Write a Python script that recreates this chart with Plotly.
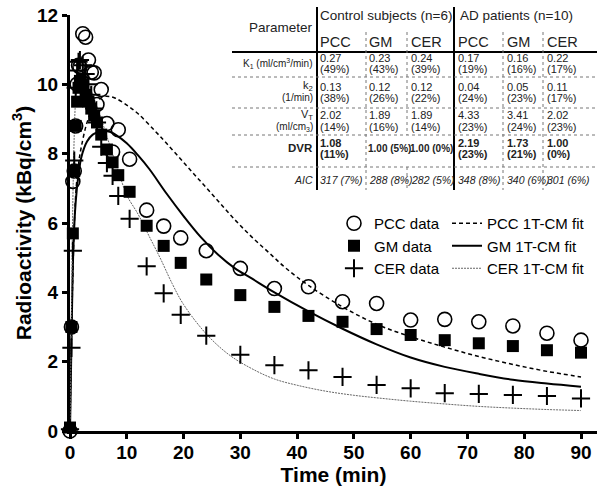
import plotly.graph_objects as go

# ---------------- data ----------------
TIME = [0, 0.25, 0.5, 0.75, 1.0, 1.25, 1.5, 1.75, 2.25, 2.75, 3.25, 3.75, 4.25, 4.75,
        5.5, 6.5, 7.5, 8.5, 10.5, 13.5, 16.5, 19.5, 24, 30, 36, 42, 48, 54, 60, 66, 72, 78, 84, 90]
PCC_DATA = [0, 3.0, 7.2, 7.5, 8.8, 10.0, 10.55, 10.5, 11.46, 11.36, 10.7, 10.35, 10.33, 9.42,
            9.85, 8.87, 8.05, 8.69, 7.84, 6.37, 5.91, 5.57, 5.2, 4.69, 4.11, 4.16, 3.73, 3.68,
            3.2, 3.22, 3.15, 3.03, 2.82, 2.62]
GM_DATA = [0.1, 3.0, 5.7, 7.5, 8.8, 9.5, 9.9, 10.1, 10.0, 9.7, 9.5, 9.3, 9.1, 8.9,
           8.55, 8.12, 7.75, 7.38, 6.9, 5.92, 5.34, 4.85, 4.37, 3.92, 3.58, 3.32, 3.15, 2.94,
           2.77, 2.62, 2.53, 2.45, 2.33, 2.26]
CER_DATA = [0.05, 2.4, 5.2, 7.8, 9.9, 10.4, 10.65, 10.7, 10.55, 10.3, 10.0, 9.7, 9.3, 8.9,
            8.2, 7.73, 7.36, 6.78, 6.12, 4.75, 3.97, 3.35, 2.75, 2.2, 1.9, 1.75, 1.56, 1.33,
            1.23, 1.09, 1.07, 1.04, 1.01, 0.94]

PCC_FIT_T = [0, 0.5, 1, 1.5, 2, 3, 4, 5, 6, 7, 8, 10, 12, 15, 17, 20, 23, 26, 29, 32, 35,
             38, 42, 48, 54, 60, 66, 72, 78, 84, 90]
PCC_FIT = [0, 4.5, 6.8, 7.7, 8.2, 8.9, 9.3, 9.55, 9.65, 9.65, 9.6, 9.4, 9.15, 8.65, 8.3, 7.75,
           7.2, 6.65, 6.1, 5.6, 5.15, 4.7, 4.2, 3.58, 3.08, 2.72, 2.42, 2.15, 1.92, 1.72, 1.56]
GM_FIT_T = [0, 0.3, 0.6, 1, 1.5, 2, 3, 4, 5, 6, 7, 8, 10, 12, 14, 17, 20, 23, 26, 29, 32,
            36, 42, 48, 54, 60, 66, 72, 78, 84, 90]
GM_FIT = [0, 3.0, 5.3, 6.6, 7.4, 7.9, 8.35, 8.55, 8.62, 8.65, 8.63, 8.55, 8.3, 7.95, 7.55,
          6.85, 6.2, 5.6, 5.1, 4.7, 4.4, 4.0, 3.45, 2.95, 2.5, 2.12, 1.85, 1.65, 1.48, 1.37, 1.28]
CER_FIT_T = [0, 0.3, 0.6, 1, 1.5, 2, 3, 4, 5, 6, 7, 8, 9, 10, 12, 14, 16, 18, 20, 24, 28, 32,
             36, 40, 45, 50, 55, 60, 66, 72, 78, 84, 90]
CER_FIT = [0, 4.0, 7.5, 9.6, 10.4, 10.6, 10.2, 9.7, 9.25, 8.75, 8.25, 7.75, 7.25, 6.8, 6.25,
           5.6, 4.95, 4.25, 3.65, 2.8, 2.2, 1.8, 1.5, 1.32, 1.15, 1.03, 0.94, 0.86, 0.78, 0.71,
           0.66, 0.62, 0.59]

X_TICKS = [0, 10, 20, 30, 40, 50, 60, 70, 80, 90]
Y_TICKS = [0, 2, 4, 6, 8, 10, 12]

# table contents
GROUPS = ["Control subjects (n=6)", "AD patients (n=10)"]
REGIONS = ["PCC", "GM", "CER", "PCC", "GM", "CER"]
K1 = ["0.27", "0.23", "0.24", "0.17", "0.16", "0.22"]
K1_CV = ["(49%)", "(43%)", "(39%)", "(19%)", "(16%)", "(17%)"]
K2 = ["0.13", "0.12", "0.12", "0.04", "0.05", "0.11"]
K2_CV = ["(38%)", "(26%)", "(22%)", "(24%)", "(23%)", "(17%)"]
VT = ["2.02", "1.89", "1.89", "4.33", "3.41", "2.02"]
VT_CV = ["(14%)", "(16%)", "(14%)", "(23%)", "(24%)", "(23%)"]
DVR = ["1.08", "1.00", "1.00", "2.19", "1.73", "1.00"]
DVR_CV = ["(11%)", "(5%)", "(0%)", "(23%)", "(21%)", "(0%)"]
AIC = ["317 (7%)", "288 (8%)", "282 (5%)", "348 (8%)", "340 (6%)", "301 (6%)"]

# ---------------- layout geometry ----------------
W, H = 597, 486
ML, MR, MT, MB = 70, 0, 15, 55
PW, PH = W - ML - MR, H - MT - MB
XMAX = 90 * PW / (581 - 70)


def px(x):
    return (x - ML) / PW


def py(y):
    return (MT + PH - y) / PH


fig = go.Figure()

fig.add_trace(go.Scatter(x=PCC_FIT_T, y=PCC_FIT, mode="lines", name="PCC 1T-CM fit",
                         line=dict(color="black", width=1.5, dash="4px,3px", shape="spline"),
                         legend="legend2", cliponaxis=False))
fig.add_trace(go.Scatter(x=GM_FIT_T, y=GM_FIT, mode="lines", name="GM 1T-CM fit",
                         line=dict(color="black", width=2, shape="spline"),
                         legend="legend2", cliponaxis=False))
fig.add_trace(go.Scatter(x=CER_FIT_T, y=CER_FIT, mode="lines", name="CER 1T-CM fit",
                         line=dict(color="#666666", width=1, dash="2px,1px", shape="spline"),
                         legend="legend2", cliponaxis=False))

fig.add_trace(go.Scatter(x=TIME, y=PCC_DATA, mode="markers", name="PCC data",
                         marker=dict(symbol="circle-open", size=14, color="black",
                                     line=dict(width=1.6, color="black")),
                         legend="legend", cliponaxis=False))
fig.add_trace(go.Scatter(x=TIME, y=GM_DATA, mode="markers", name="GM data",
                         marker=dict(symbol="square", size=12, color="black"),
                         legend="legend", cliponaxis=False))
fig.add_trace(go.Scatter(x=TIME, y=CER_DATA, mode="markers", name="CER data",
                         marker=dict(symbol="cross-thin", size=13, color="black",
                                     line=dict(width=2, color="black")),
                         legend="legend", cliponaxis=False))

TF = "Liberation Sans, Arial, sans-serif"
TC = "#222222"
ann = []


def txt(t, x, y, size=10.5, anchor="left", color=TC, family=TF):
    ann.append(dict(text=t, x=px(x), y=py(y), xref="paper", yref="paper",
                    xanchor=anchor, yanchor="middle", showarrow=False,
                    font=dict(family=family, size=size, color=color)))


COLX = [318, 367, 409, 456, 505, 545]
txt("Parameter", 247, 27, size=13.5)
txt(GROUPS[0], 318, 15, size=13.5)
txt(GROUPS[1], 458, 15, size=13.5)
for i, r in enumerate(REGIONS):
    txt(r, COLX[i], 42, size=14.5)

LX = 315
txt("K<sub>1</sub> (ml/cm<sup>3</sup>/min)", LX, 63, anchor="right", size=10)
txt("k<sub>2</sub>", LX, 86, anchor="right", size=11)
txt("(1/min)", LX, 98, anchor="right", size=10)
txt("V<sub>T</sub>", LX, 115, anchor="right", size=11)
txt("(ml/cm<sub>3</sub>)", LX, 127, anchor="right", size=10)
txt("<b>DVR</b>", LX, 148, anchor="right", size=11.5)
txt("<i>AIC</i>", LX, 180, anchor="right", size=10.5)

for i in range(6):
    txt(K1[i], COLX[i], 58, size=11)
    txt(K1_CV[i], COLX[i], 69, size=11)
    txt(K2[i], COLX[i], 87, size=11)
    txt(K2_CV[i], COLX[i], 98, size=11)
    txt(VT[i], COLX[i], 115, size=11)
    txt(VT_CV[i], COLX[i], 127, size=11)
    if i in (1, 2):
        txt("<b>%s %s</b>" % (DVR[i], DVR_CV[i]), COLX[i] - 1, 148, size=10)
    else:
        txt("<b>%s</b>" % DVR[i], COLX[i], 143, size=11)
        txt("<b>%s</b>" % DVR_CV[i], COLX[i], 154, size=11)
    txt("<i>%s</i>" % AIC[i], COLX[i], 180, size=10.5)

shapes = []


def seg(x0, y0, x1, y1, width=2, color="black", dash="solid"):
    shapes.append(dict(type="line", xref="paper", yref="paper",
                       x0=px(x0), y0=py(y0), x1=px(x1), y1=py(y1),
                       line=dict(color=color, width=width, dash=dash)))


seg(317, 7, 317, 190, width=2)
seg(454, 7, 454, 190, width=2)
seg(232, 52, 597, 52, width=2)
for yy in (77, 108, 135, 167):
    seg(232, yy, 597, yy, width=1, color="#777777", dash="dot")
for xx in (366, 503, 543):
    seg(xx, 32, xx, 190, width=1, color="#777777", dash="dot")
seg(407, 32, 407, 135, width=1, color="#777777", dash="dot")
seg(407, 167, 407, 190, width=1, color="#777777", dash="dot")

AXF = "Liberation Sans, Arial, sans-serif"
fig.update_layout(
    width=W, height=H,
    margin=dict(l=ML, r=MR, t=MT, b=MB, pad=0, autoexpand=False),
    paper_bgcolor="white", plot_bgcolor="white",
    font=dict(family=AXF, color="black"),
    annotations=ann, shapes=shapes,
    legend=dict(x=px(334), y=py(207), xanchor="left", yanchor="top",
                bgcolor="rgba(0,0,0,0)", borderwidth=0, tracegroupgap=0,
                font=dict(family=AXF, size=15, color="black"), itemsizing="trace"),
    legend2=dict(x=px(447), y=py(207), xanchor="left", yanchor="top",
                 bgcolor="rgba(0,0,0,0)", borderwidth=0, tracegroupgap=0,
                 font=dict(family=AXF, size=15, color="black")),
    xaxis=dict(range=[0, XMAX], tickvals=X_TICKS, ticktext=[str(v) for v in X_TICKS],
               showline=True, linewidth=3, linecolor="black", ticks="outside",
               ticklen=5, tickwidth=3, tickcolor="black", showgrid=False, zeroline=False,
               automargin=False, ticklabelstandoff=-3,
               tickfont=dict(family=AXF, size=19, weight="bold", color="black"),
               title=dict(text="<b>Time (min)</b>", font=dict(family=AXF, size=21),
                          standoff=0)),
    yaxis=dict(range=[0, 12], tickvals=Y_TICKS, ticktext=[str(v) for v in Y_TICKS],
               showline=True, linewidth=3, linecolor="black", ticks="outside",
               ticklen=5, tickwidth=3, tickcolor="black", showgrid=False, zeroline=False,
               automargin=False,
               tickfont=dict(family=AXF, size=19, weight="bold", color="black"),
               title=dict(text="<b>Radioactivity (kBq/cm<sup>3</sup>)</b>",
                          font=dict(family=AXF, size=21), standoff=0)),
)

fig.write_html("out.html", config={"displayModeBar": False},
               post_script="document.body.style.margin='0';document.body.style.padding='0';")
